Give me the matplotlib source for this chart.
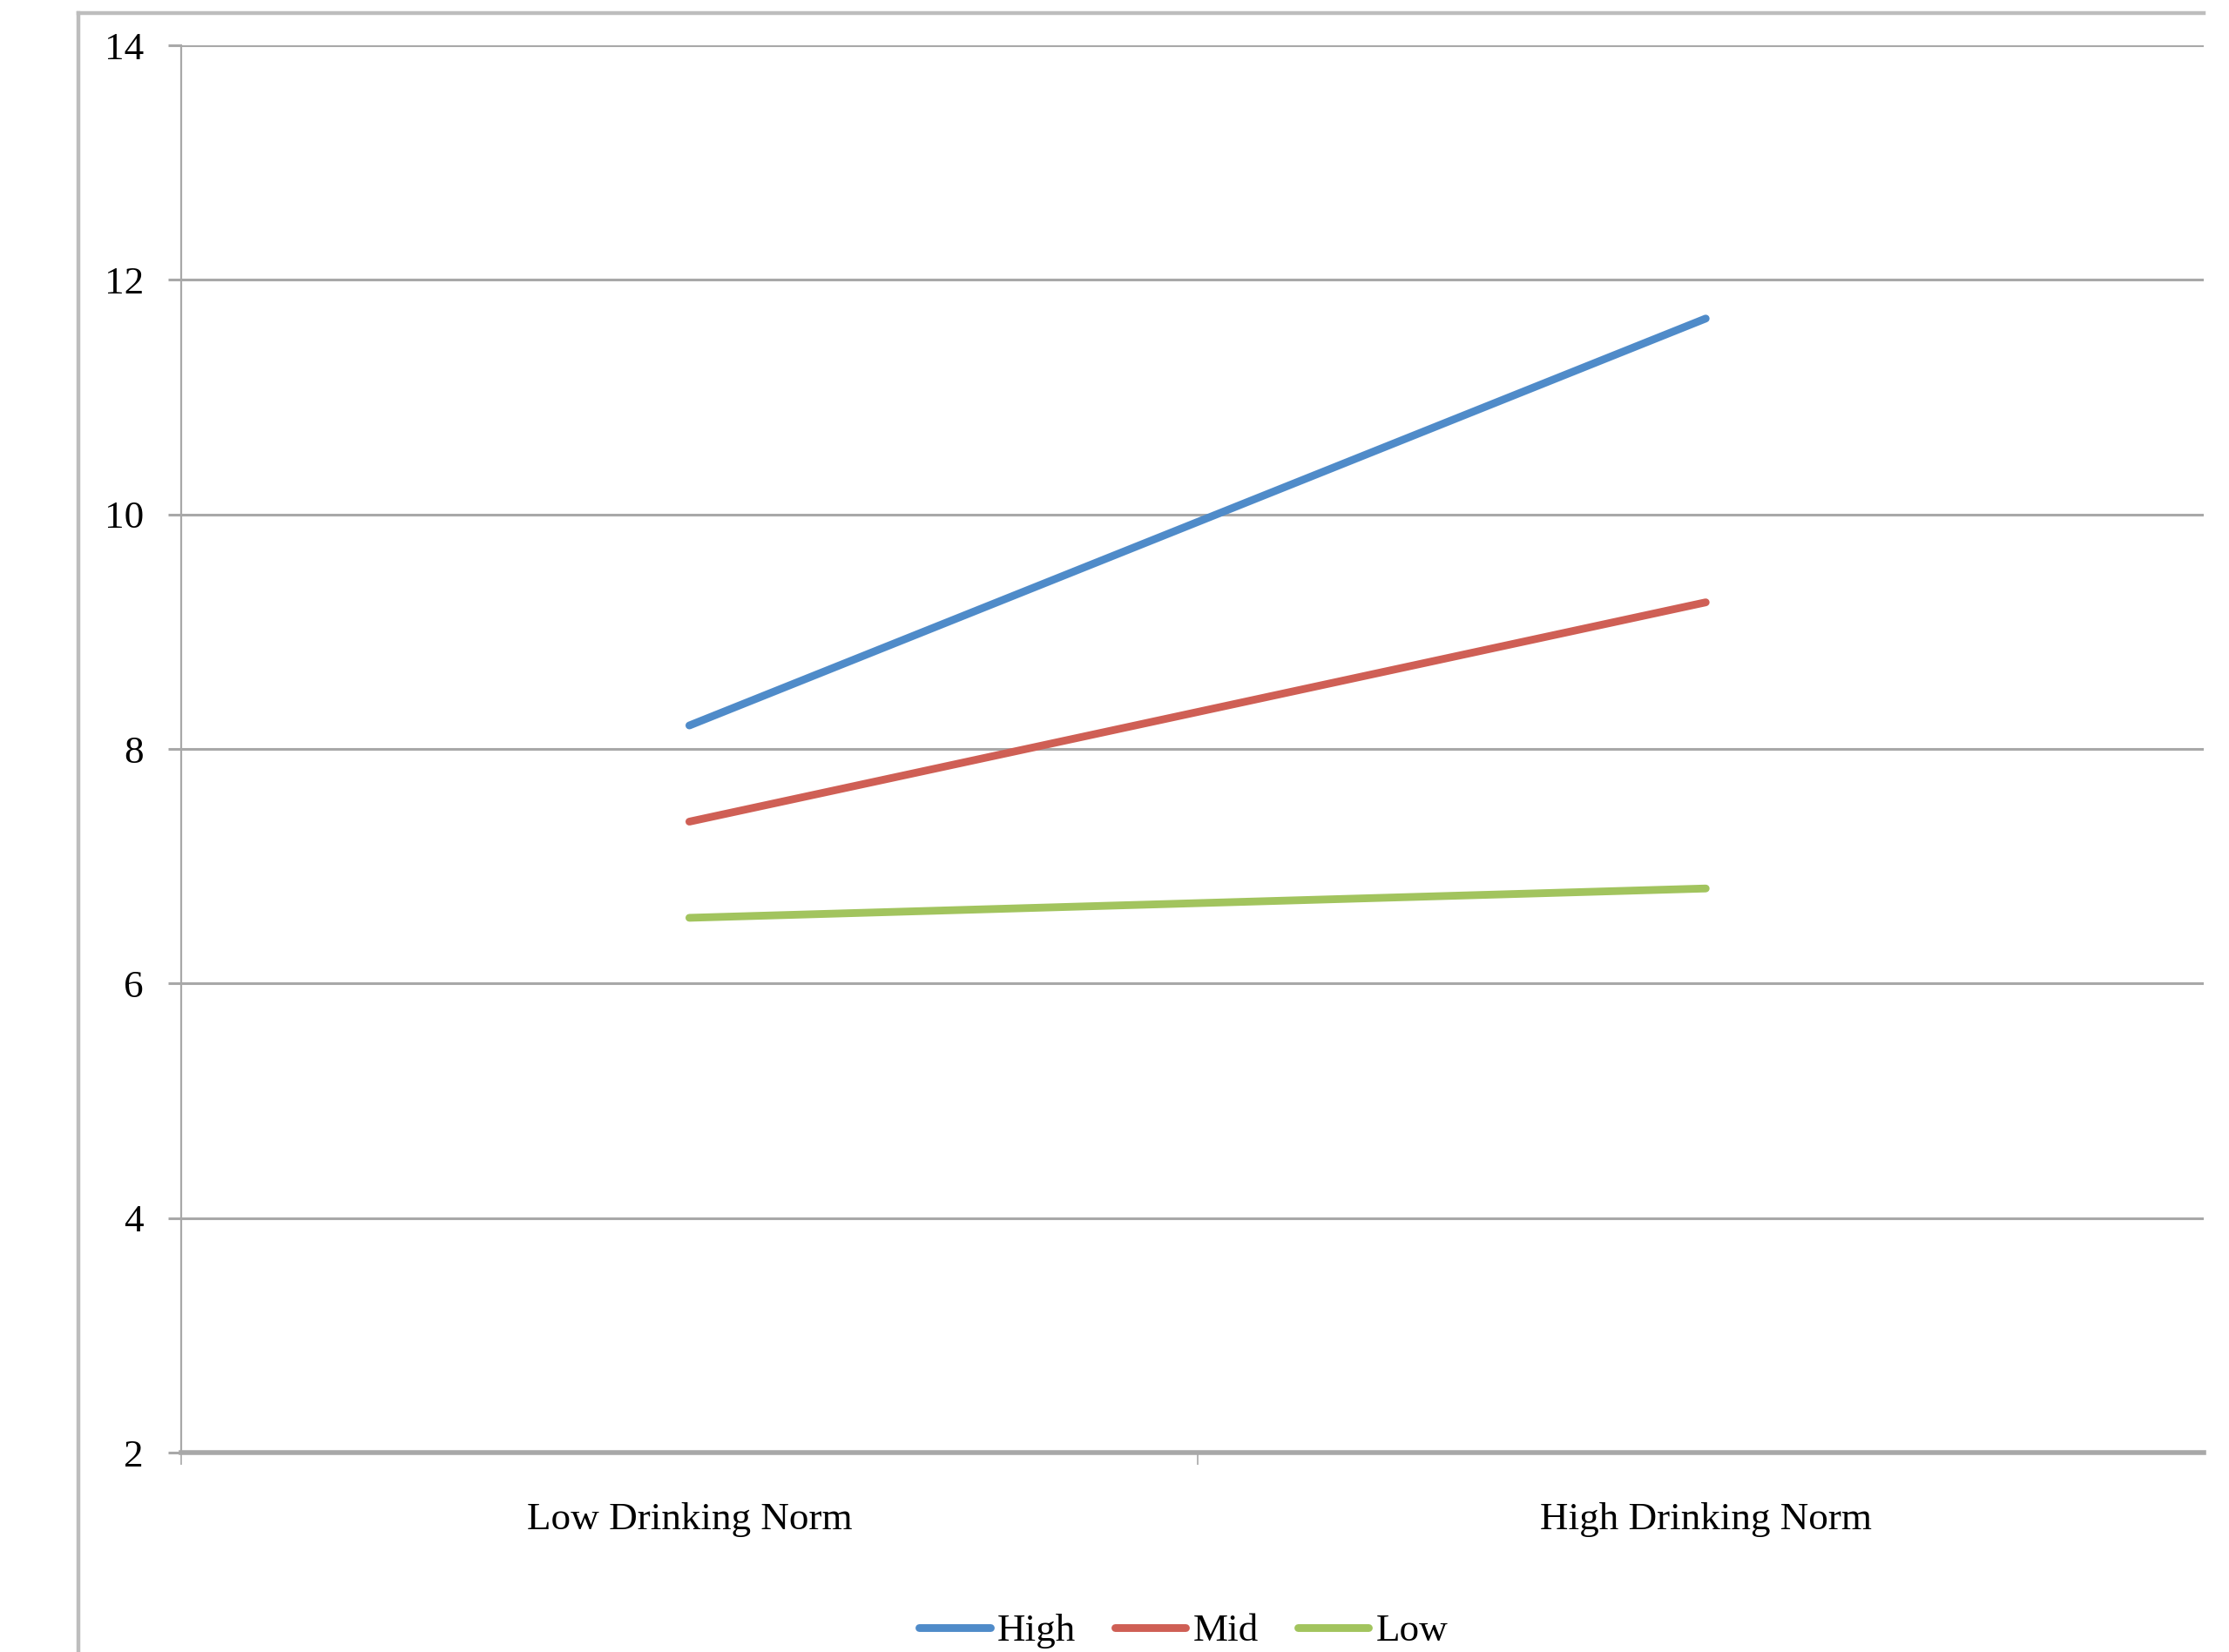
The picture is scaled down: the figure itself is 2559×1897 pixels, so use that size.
import matplotlib
matplotlib.use("Agg")
import matplotlib.pyplot as plt
from matplotlib.lines import Line2D

# Interaction plot: drinking norm x symptom level
norms = ["Low Drinking Norm", "High Drinking Norm"]
groups = ["High", "Mid", "Low"]
high = [8.20, 11.67]
mid = [7.38, 9.25]
low = [6.56, 6.81]
yticks = [2, 4, 6, 8, 10, 12, 14]

colors = {"High": "#4F8BC9", "Mid": "#CF5F55", "Low": "#A2C45E"}
grid_c = "#a8a8a8"

plt.rcParams["font.family"] = ["Liberation Serif", "DejaVu Serif"]
fs = 32.5

W, H = 2559, 1897
fig = plt.figure(figsize=(W / 100, H / 100), dpi=100)
ax = fig.add_axes([208 / W, 1 - 1668 / H, (2530 - 208) / W, (1668 - 52) / H])

xs = range(len(norms))
for name, vals in zip(groups, [high, mid, low]):
    ax.plot(xs, vals, color=colors[name], lw=6.4, solid_capstyle="round", label=name)

ax.set_xlim(-0.5, 1.49)
ax.set_ylim(2, 14)
ax.set_yticks(yticks)
ax.set_yticklabels([str(t) for t in yticks])
ax.yaxis.grid(True, color=grid_c, lw=2.2)
ax.set_axisbelow(True)

ax.set_xticks(list(xs))
ax.set_xticklabels(norms)
ax.set_xticks([-0.5, 0.5], minor=True)
ax.tick_params(axis="x", which="major", length=0, pad=41, labelsize=fs)
ax.tick_params(axis="x", which="minor", length=10, width=1.2, color=grid_c)
ax.tick_params(axis="y", length=11, width=2.2, color=grid_c, pad=20, labelsize=fs)

for s in ["top", "right"]:
    ax.spines[s].set_visible(False)
ax.spines["left"].set_color(grid_c)
ax.spines["left"].set_linewidth(1.6)
ax.spines["bottom"].set_color(grid_c)
ax.spines["bottom"].set_linewidth(4)

leg = fig.legend(loc="center", bbox_to_anchor=(0.531, 1 - 1873 / H), ncol=3,
                 frameon=False, fontsize=fs, handlelength=1.8,
                 handletextpad=0.18, columnspacing=1.0)

# outer chart frame
fig.add_artist(Line2D([90 / W, 2530 / W], [1 - 15 / H, 1 - 15 / H], color="#bdbdbd", lw=3.2))
fig.add_artist(Line2D([90 / W, 90 / W], [0, 1 - 15 / H], color="#bdbdbd", lw=3.2))

fig.savefig("out.png", dpi=100, facecolor="white")
